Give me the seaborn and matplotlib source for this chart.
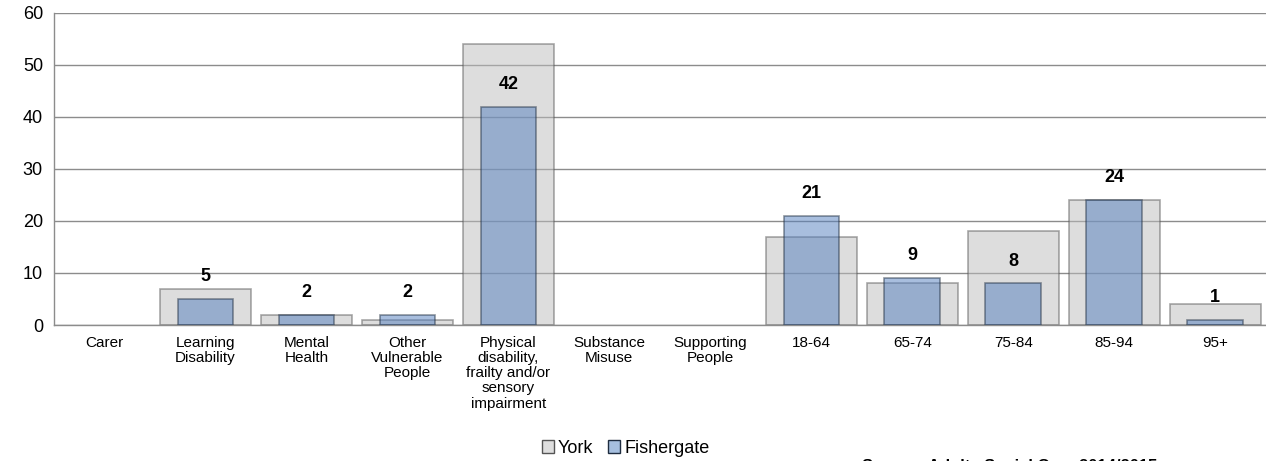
import numpy as np
import pandas as pd
import matplotlib
matplotlib.use("Agg")
import matplotlib.pyplot as plt
import seaborn as sns
from matplotlib.patches import Patch

categories = ["Carer", "Learning\nDisability", "Mental\nHealth", "Other\nVulnerable\nPeople",
              "Physical\ndisability,\nfrailty and/or\nsensory\nimpairment", "Substance\nMisuse",
              "Supporting\nPeople", "18-64", "65-74", "75-84", "85-94", "95+"]
york = [0, 7, 2, 1, 54, 0, 0, 17, 8, 18, 24, 4]
fishergate = [0, 5, 2, 2, 42, 0, 0, 21, 9, 8, 24, 1]

sns.set_style("white")
plt.rcParams['font.family'] = ['Liberation Sans', 'DejaVu Sans']
plt.rcParams['text.color'] = 'black'
plt.rcParams['xtick.color'] = 'black'
plt.rcParams['ytick.color'] = 'black'

fig = plt.figure(figsize=(12.66, 4.61), dpi=100)
ax = fig.add_axes([0.0427, 0.295, 0.957, 0.677])

df = pd.DataFrame({"cat": categories, "York": york, "Fishergate": fishergate})

sns.barplot(data=df, x="cat", y="York", width=0.9, color="#bdbdbd", alpha=0.5, saturation=1,
            edgecolor="#555555", linewidth=1.2, ax=ax, zorder=2)
sns.barplot(data=df, x="cat", y="Fishergate", width=0.55, color="#537fbf", alpha=0.5, saturation=1,
            edgecolor="#1f2d40", linewidth=1.2, ax=ax, zorder=3)

# hide empty bars (zero height)
for p in ax.patches:
    if p.get_height() == 0:
        p.set_visible(False)

for i, v in enumerate(fishergate):
    if v > 0:
        ax.annotate(str(v), (i, v), xytext=(0, 10), textcoords="offset points",
                    ha="center", va="bottom", fontsize=13, fontweight="bold")

ax.set_ylim(0, 60)
ax.set_xlim(-0.5, len(categories) - 0.5)
ax.set_yticks(range(0, 61, 10))
ax.yaxis.grid(True, color="#8c8c8c", linewidth=1.0, zorder=0)
ax.set_axisbelow(True)
ax.set_xlabel("")
ax.set_ylabel("")

for s in ["top", "right"]:
    ax.spines[s].set_visible(False)
for s in ["left", "bottom"]:
    ax.spines[s].set_color("#8c8c8c")
    ax.spines[s].set_linewidth(1.0)

ax.set_xticks(range(len(categories)))
ax.set_xticklabels(categories, fontsize=11, linespacing=1.1, va="top")
ax.tick_params(axis="x", length=0, pad=8)
ax.set_xticks(np.arange(-0.5, len(categories), 1), minor=True)
ax.tick_params(axis="x", which="minor", length=5, color="#8c8c8c", direction="out")
ax.tick_params(axis="y", length=5, color="#8c8c8c", labelsize=13, pad=3)

handles = [Patch(facecolor="#dedede", edgecolor="#555555", label="York"),
           Patch(facecolor="#a6bfdf", edgecolor="#1f2d40", label="Fishergate")]
fig.legend(handles=handles, loc="center", bbox_to_anchor=(0.494, 0.028), ncol=2,
           frameon=False, fontsize=13, handlelength=0.7, handleheight=0.7,
           handletextpad=0.2, columnspacing=0.8)

fig.text(0.681, -0.012, "Source: Adults Social Care 2014/2015", fontsize=12,
         fontweight="bold", ha="left", va="center")

fig.savefig("out.png", dpi=100)
